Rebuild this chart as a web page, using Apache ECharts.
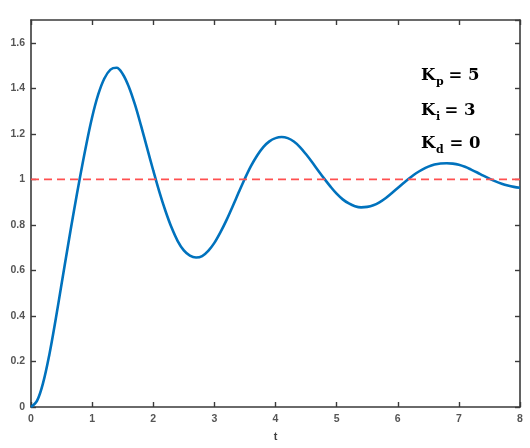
<!DOCTYPE html>
<html>
<head>
<meta charset="utf-8">
<script src="https://cdn.jsdelivr.net/npm/echarts@6/dist/echarts.min.js"></script>
<style>
  html, body { margin: 0; padding: 0; background: #fff; }
  #chart { width: 530px; height: 448px; }
</style>
</head>
<body>
<div id="chart"></div>
<script>
// ---- data ----
const timeValues = [
  0.0, 0.1, 0.2, 0.3, 0.4, 0.5, 0.6, 0.7, 0.8, 0.9,
  1.0, 1.1, 1.2, 1.3, 1.4, 1.5, 1.6, 1.7, 1.8, 1.9,
  2.0, 2.1, 2.2, 2.3, 2.4, 2.5, 2.6, 2.7, 2.8, 2.9,
  3.0, 3.1, 3.2, 3.3, 3.4, 3.5, 3.6, 3.7, 3.8, 3.9,
  4.0, 4.1, 4.2, 4.3, 4.4, 4.5, 4.6, 4.7, 4.8, 4.9,
  5.0, 5.1, 5.2, 5.3, 5.4, 5.5, 5.6, 5.7, 5.8, 5.9,
  6.0, 6.1, 6.2, 6.3, 6.4, 6.5, 6.6, 6.7, 6.8, 6.9,
  7.0, 7.1, 7.2, 7.3, 7.4, 7.5, 7.6, 7.7, 7.8, 7.9,
  8.0
];
const responseValues = [
  0.000, 0.028, 0.108, 0.230, 0.379, 0.540, 0.701, 0.858, 1.007, 1.147,
  1.273, 1.373, 1.443, 1.482, 1.490, 1.463, 1.407, 1.329, 1.236, 1.137,
  1.039, 0.945, 0.861, 0.788, 0.729, 0.688, 0.665, 0.657, 0.663, 0.686,
  0.721, 0.768, 0.822, 0.882, 0.944, 1.004, 1.059, 1.105, 1.142, 1.167,
  1.181, 1.186, 1.181, 1.166, 1.142, 1.110, 1.075, 1.038, 1.002, 0.968,
  0.937, 0.912, 0.894, 0.882, 0.877, 0.879, 0.886, 0.899, 0.917, 0.939,
  0.962, 0.985, 1.007, 1.027, 1.043, 1.056, 1.065, 1.070, 1.071, 1.069,
  1.064, 1.055, 1.043, 1.030, 1.016, 1.003, 0.991, 0.981, 0.973, 0.967,
  0.963
];
const referenceTimes = [0, 8];
const referenceValues = [1, 1];
const xTickValues = [0, 1, 2, 3, 4, 5, 6, 7, 8];
const yTickValues = [0, 0.2, 0.4, 0.6, 0.8, 1, 1.2, 1.4, 1.6];
const gainNames = ['p', 'i', 'd'];
const gainValues = [5, 3, 0];
const xAxisName = 't';

// ---- chart ----
const chart = echarts.init(document.getElementById('chart'), null, { renderer: 'canvas' });

const axisColor = '#3a3a3a';
const labelStyle = {
  color: '#555555',
  fontSize: 10.5,
  fontWeight: 'bold',
  fontFamily: 'Liberation Sans, Arial, sans-serif'
};

function xAxisCfg(pos, showLabel) {
  return {
    type: 'value', position: pos, min: 0, max: 8, interval: 1,
    axisLine: { show: true, onZero: false, lineStyle: { color: axisColor, width: 1.6 } },
    axisTick: { show: true, inside: true, length: 5, lineStyle: { color: axisColor, width: 1.4 } },
    axisLabel: Object.assign({ show: showLabel, margin: 7, formatter: v => xTickValues.includes(v) ? String(v) : '' }, labelStyle),
    splitLine: { show: false }
  };
}
function yAxisCfg(pos, showLabel) {
  return {
    type: 'value', position: pos, min: 0, max: 1.7, interval: 0.2,
    axisLine: { show: true, onZero: false, lineStyle: { color: axisColor, width: 1.6 } },
    axisTick: { show: true, inside: true, length: 5, lineStyle: { color: axisColor, width: 1.4 } },
    axisLabel: Object.assign({
      show: showLabel, margin: 6, showMaxLabel: false,
      formatter: v => yTickValues.some(t => Math.abs(t - v) < 1e-9) ? String(Math.round(v * 10) / 10) : ''
    }, labelStyle),
    splitLine: { show: false }
  };
}

const xA = xAxisCfg('bottom', true);
xA.name = xAxisName;
xA.nameLocation = 'middle';
xA.nameGap = 24;
xA.nameTextStyle = { color: '#404040', fontSize: 11, fontWeight: 'bold', fontFamily: 'Liberation Sans, Arial, sans-serif' };

const curveData = timeValues.map((t, i) => [t, responseValues[i]]);
const refData = referenceTimes.map((t, i) => [t, referenceValues[i]]);

// gain annotations (LaTeX-like bold serif)
const serif = 'DejaVu Serif, Liberation Serif, serif';
const lineMids = [76, 110.5, 144];
const graphics = [];
gainNames.forEach((name, i) => {
  const ym = lineMids[i];
  graphics.push({
    type: 'text', x: 421, y: ym,
    style: { text: 'K', font: 'bold 16.5px ' + serif, fill: '#000', align: 'left', verticalAlign: 'middle' }
  });
  graphics.push({
    type: 'text', x: 436, y: ym + 6.5,
    style: { text: name, font: 'bold 11px ' + serif, fill: '#000', align: 'left', verticalAlign: 'middle' }
  });
  graphics.push({
    type: 'text', x: i === 0 ? 448.5 : (i === 1 ? 444.5 : 449.5), y: ym,
    style: { text: '= ' + gainValues[i], font: 'bold 16.5px ' + serif, fill: '#000', align: 'left', verticalAlign: 'middle' }
  });
});

chart.setOption({
  animation: false,
  backgroundColor: '#ffffff',
  grid: { left: 31, right: 10, top: 20, bottom: 41, containLabel: false },
  xAxis: [xA, xAxisCfg('top', false)],
  yAxis: [yAxisCfg('left', true), yAxisCfg('right', false)],
  series: [
    {
      type: 'line', xAxisIndex: 0, yAxisIndex: 0,
      data: curveData, smooth: 0.35, showSymbol: false, silent: true,
      lineStyle: { color: '#0072BD', width: 2.6 }
    },
    {
      type: 'line', xAxisIndex: 0, yAxisIndex: 0,
      data: refData, showSymbol: false, silent: true,
      lineStyle: { color: '#ff5050', width: 1.6, type: [8, 5] }
    }
  ],
  graphic: graphics
});
</script>
</body>
</html>
